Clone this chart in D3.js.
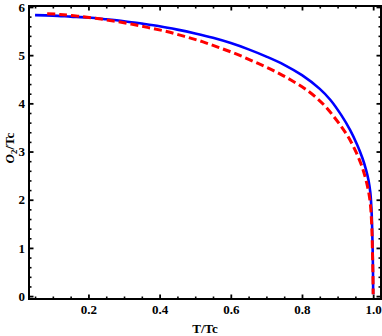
<!DOCTYPE html>
<html>
<head>
<meta charset="utf-8">
<script src="https://cdn.jsdelivr.net/npm/d3@7"></script>
<style>
  body { margin: 0; background: #fff; }
  svg { display: block; }
  .tick text { font-family: "Liberation Serif", "DejaVu Serif", serif; font-weight: bold; font-size: 13px; fill: #000; }
  .domain { display: none; }
</style>
</head>
<body>
<svg width="382" height="336"></svg>
<script>
// T/Tc and O2/Tc, solid blue curve
const blueT = [0.05, 0.10, 0.15, 0.20, 0.25, 0.30, 0.35, 0.40, 0.45, 0.50, 0.55, 0.60, 0.65, 0.70, 0.75, 0.80, 0.85, 0.88, 0.91, 0.935, 0.955, 0.97, 0.98, 0.987, 0.992, 0.995, 0.997, 0.9985, 0.9995, 1.0];
const blueO = [5.83, 5.82, 5.80, 5.78, 5.745, 5.705, 5.655, 5.60, 5.53, 5.45, 5.36, 5.25, 5.12, 4.97, 4.80, 4.585, 4.30, 4.07, 3.76, 3.45, 3.14, 2.86, 2.62, 2.40, 2.15, 1.84, 1.45, 0.98, 0.50, 0.04];
// dashed red curve
const redT = [0.084, 0.12, 0.17, 0.22, 0.27, 0.32, 0.37, 0.42, 0.47, 0.52, 0.57, 0.62, 0.67, 0.72, 0.77, 0.82, 0.86, 0.89, 0.915, 0.935, 0.953, 0.967, 0.978, 0.986, 0.991, 0.994, 0.9965, 0.998, 0.9993, 1.0];
const redO = [5.86, 5.845, 5.81, 5.765, 5.71, 5.645, 5.57, 5.49, 5.39, 5.28, 5.15, 5.01, 4.85, 4.68, 4.48, 4.24, 3.98, 3.72, 3.47, 3.24, 2.97, 2.72, 2.46, 2.21, 1.98, 1.74, 1.36, 0.93, 0.48, 0.04];

const xTicks = [0.2, 0.4, 0.6, 0.8, 1.0];
const xMinor = [0.05, 0.1, 0.15, 0.25, 0.3, 0.35, 0.45, 0.5, 0.55, 0.65, 0.7, 0.75, 0.85, 0.9, 0.95];
const yTicks = [0, 1, 2, 3, 4, 5, 6];
const yMinor = d3.range(0, 30).map(i => i / 5).filter(v => Math.abs(v - Math.round(v)) > 1e-6);

const svg = d3.select("svg");
const mLeft = 29, mRight = 381, mTop = 6, mBottom = 299;

const x = d3.scaleLinear().domain([0.033, 1.022]).range([mLeft, mRight]);
const y = d3.scaleLinear().domain([-0.06, 6.02]).range([mBottom, mTop]);

function drawAxis(axisFn, scale, major, minor, tx, ty, labels, pad) {
  const g = svg.append("g").attr("transform", `translate(${tx},${ty})`);
  g.append("g").call(axisFn(scale).tickValues(minor).tickSize(-2.5).tickFormat(""))
    .selectAll("line").attr("stroke", "#000").attr("stroke-width", 1.6);
  const gm = g.append("g").call(axisFn(scale).tickValues(major).tickSize(-4.5)
    .tickPadding(pad || 0).tickFormat(labels ? labels : ""));
  gm.selectAll("line").attr("stroke", "#000").attr("stroke-width", 1.8);
  return gm;
}

drawAxis(d3.axisBottom, x, xTicks, xMinor, 0, mBottom, d3.format(".1f"), 6);
drawAxis(d3.axisTop, x, xTicks, xMinor, 0, mTop, null);
drawAxis(d3.axisLeft, y, yTicks, yMinor, mLeft, 0, d3.format("d"), 4);
drawAxis(d3.axisRight, y, yTicks, yMinor, mRight, 0, null);

const line = d3.line().x(d => x(d[0])).y(d => y(d[1])).curve(d3.curveCatmullRom.alpha(0.5));

svg.append("path")
  .datum(blueT.map((t, i) => [t, blueO[i]]))
  .attr("d", line)
  .attr("fill", "none")
  .attr("stroke", "#0000ff")
  .attr("stroke-width", 2.6);

svg.append("path")
  .datum(redT.map((t, i) => [t, redO[i]]))
  .attr("d", line)
  .attr("fill", "none")
  .attr("stroke", "#ff0000")
  .attr("stroke-width", 3)
  .attr("stroke-dasharray", "8,4");

// frame
svg.append("rect")
  .attr("x", mLeft).attr("y", mTop)
  .attr("width", mRight - mLeft).attr("height", mBottom - mTop)
  .attr("fill", "none").attr("stroke", "#000").attr("stroke-width", 2);

// axis titles
svg.append("text")
  .attr("x", 205).attr("y", 333)
  .attr("text-anchor", "middle")
  .style("font-family", "'Liberation Serif', serif")
  .style("font-weight", "bold").style("font-size", "13px")
  .text("T/Tc");

const yt = svg.append("text")
  .attr("transform", "translate(14,148) rotate(-90)")
  .attr("text-anchor", "middle")
  .style("font-family", "'Liberation Serif', serif")
  .style("font-weight", "bold").style("font-size", "13px");
yt.append("tspan").style("font-style", "italic").text("O");
yt.append("tspan").attr("dy", 3).style("font-size", "9px").text("2");
yt.append("tspan").attr("dy", -3).text("/Tc");
</script>
</body>
</html>
